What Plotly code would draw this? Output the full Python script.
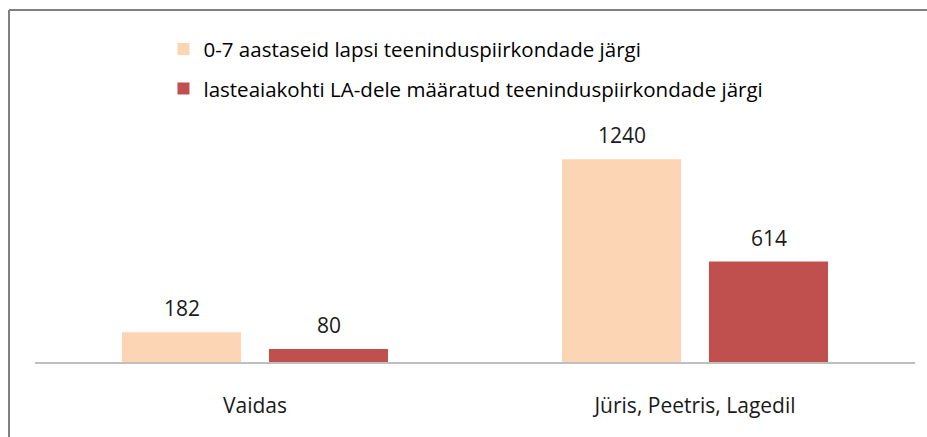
import plotly.graph_objects as go

categories = ["Vaidas", "Jüris, Peetris, Lagedil"]
series_names = [
    "0-7 aastaseid lapsi teeninduspiirkondade järgi",
    "lasteaiakohti LA-dele määratud teeninduspiirkondade järgi",
]
children = [182, 1240]
places = [80, 614]
colors = ["#FCD5B5", "#C0504D"]

FONT = "Open Sans"
series_values = [children, places]
# half of the per-bar slot in pixels (group offset for value labels)
slot_shift = [-73.5, 73.5]

fig = go.Figure()
for i, (name, vals) in enumerate(zip(series_names, series_values)):
    fig.add_trace(go.Bar(
        x=categories, y=vals, name=name,
        marker=dict(color=colors[i], line=dict(width=0)),
        legendgroup=f"g{i}",
    ))

annotations = []
for i, vals in enumerate(series_values):
    for cat, v in zip(categories, vals):
        annotations.append(dict(
            x=cat, y=v, xref="x", yref="y", text=str(v), showarrow=False,
            xanchor="center", yanchor="bottom", xshift=slot_shift[i], yshift=8,
            font=dict(size=21, color="#1a1a1a", family=FONT),
        ))

fig.update_layout(
    width=927, height=437,
    margin=dict(l=35, r=12, t=35, b=75),
    paper_bgcolor="white", plot_bgcolor="white",
    barmode="group", bargap=0.332, bargroupgap=0.19,
    font=dict(family=FONT, size=20, color="#1a1a1a"),
    showlegend=True,
    legend=dict(
        x=0.146, y=1.018, xanchor="left", yanchor="top",
        orientation="v", traceorder="grouped", tracegroupgap=10,
        font=dict(size=20.5, color="#000000", family=FONT),
        bgcolor="rgba(0,0,0,0)",
    ),
    xaxis=dict(
        showline=True, linecolor="#BFBFBF", linewidth=2,
        ticks="", showgrid=False, zeroline=False,
        tickfont=dict(size=21, color="#1a1a1a"),
        ticklabelstandoff=24,
    ),
    yaxis=dict(
        range=[0, 2000], visible=False, showgrid=False, zeroline=False,
    ),
    annotations=annotations,
    shapes=[
        dict(type="line", xref="paper", yref="paper",
             x0=(9 - 35) / 880, x1=(927 - 35) / 880,
             y0=1 + 25 / 327, y1=1 + 25 / 327,
             line=dict(color="#808080", width=2)),
        dict(type="line", xref="paper", yref="paper",
             x0=(9 - 35) / 880, x1=(9 - 35) / 880,
             y0=1 + 25 / 327, y1=(362 - 440) / 327,
             line=dict(color="#808080", width=2)),
    ],
)

fig.write_html("out.html", config={"displayModeBar": False},
               post_script="document.body.style.margin='0';")
